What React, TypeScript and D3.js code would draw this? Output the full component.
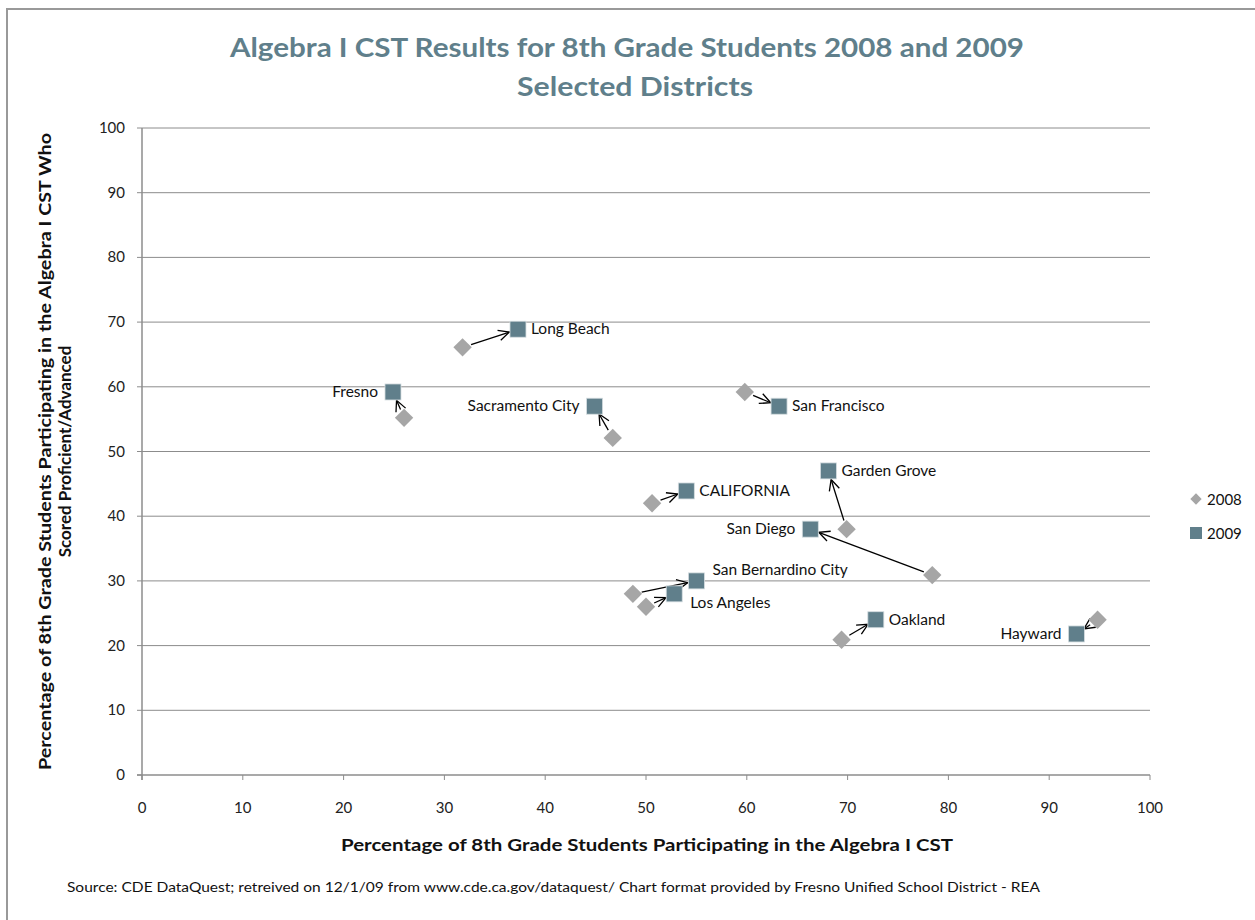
import React from 'react';
import * as d3 from 'd3';

const districts = ['Long Beach', 'Fresno', 'Sacramento City', 'San Francisco', 'Garden Grove', 'CALIFORNIA', 'San Diego', 'San Bernardino City', 'Los Angeles', 'Oakland', 'Hayward'];
const part2008 = [31.8, 26.0, 46.7, 59.8, 69.9, 50.6, 78.4, 48.7, 50.0, 69.4, 94.8];
const prof2008 = [66.1, 55.2, 52.1, 59.2, 38.0, 42.0, 30.9, 28.0, 26.0, 20.9, 24.0];
const part2009 = [37.3, 24.9, 44.9, 63.2, 68.1, 54.0, 66.3, 55.0, 52.8, 72.8, 92.7];
const prof2009 = [68.9, 59.2, 57.0, 57.0, 47.0, 43.9, 38.0, 30.0, 28.0, 24.0, 21.8];
// where the district name sits relative to the 2009 marker
const labelSide = ['right', 'left', 'left', 'right', 'right', 'right', 'left', 'above', 'below', 'right', 'left'];
const ticks = d3.range(0, 101, 10);

const W = 1255;
const H = 920;
const margin = { left: 142, right: 105, top: 128, bottom: 145 };
const FONT = 'Lato, "Open Sans", sans-serif';
const DIAMOND = '#a6a6a6';
const SQUARE = '#607f8b';
const GRID = '#8c8c8c';

export default function App() {
  const x = d3.scaleLinear().domain([0, 100]).range([margin.left, W - margin.right]);
  const y = d3.scaleLinear().domain([0, 100]).range([H - margin.bottom, margin.top]);

  const arrows = districts.map((d, i) => {
    const x0 = x(part2008[i]);
    const y0 = y(prof2008[i]);
    const x1 = x(part2009[i]);
    const y1 = y(prof2009[i]);
    const len = Math.hypot(x1 - x0, y1 - y0);
    const ux = (x1 - x0) / len;
    const uy = (y1 - y0) / len;
    const sx = x0 + ux * 9;
    const sy = y0 + uy * 9;
    const ex = x1 - ux * 9;
    const ey = y1 - uy * 9;
    const ang = Math.atan2(uy, ux);
    const head = [ang + Math.PI - 0.45, ang + Math.PI + 0.45].map((a) => [ex + Math.cos(a) * 12, ey + Math.sin(a) * 12]);
    return { d, sx, sy, ex, ey, head };
  });

  const labelPos = (i: number) => {
    const cx = x(part2009[i]);
    const cy = y(prof2009[i]);
    const side = labelSide[i];
    if (side === 'left') return { lx: cx - 15, ly: cy + 5, anchor: 'end' };
    if (side === 'above') return { lx: cx + 16, ly: cy - 6, anchor: 'start' };
    if (side === 'below') return { lx: cx + 16, ly: cy + 14, anchor: 'start' };
    return { lx: cx + 13, ly: cy + 5, anchor: 'start' };
  };

  const midX = (x(0) + x(100)) / 2;
  const midY = (y(0) + y(100)) / 2;

  return (
    <svg width={W} height={H} style={{ position: 'absolute', left: 0, top: 0 }} fontFamily={FONT}>
      <rect x={0} y={0} width={W} height={H} fill="#fff" />
      <path d={`M7,${H} V9 H${W}`} fill="none" stroke="#999" strokeWidth={2} />

      <text x={627} y={57} textAnchor="middle" fontSize={27} fontWeight="bold" fill={SQUARE} textLength={794} lengthAdjust="spacingAndGlyphs">
        Algebra I CST Results for 8th Grade Students 2008 and 2009
      </text>
      <text x={635} y={96} textAnchor="middle" fontSize={27} fontWeight="bold" fill={SQUARE} textLength={236} lengthAdjust="spacingAndGlyphs">
        Selected Districts
      </text>

      {/* gridlines */}
      {ticks.slice(1).map((t) => (
        <line key={t} x1={x(0)} x2={x(100)} y1={y(t)} y2={y(t)} stroke={GRID} strokeWidth={1} />
      ))}
      {/* axes */}
      <line x1={x(0)} x2={x(0)} y1={y(0) + 5} y2={y(100)} stroke={GRID} strokeWidth={1.5} />
      <line x1={x(0) - 5} x2={x(100)} y1={y(0)} y2={y(0)} stroke={GRID} strokeWidth={1.5} />
      {ticks.map((t) => (
        <g key={t}>
          <line x1={x(0) - 5} x2={x(0)} y1={y(t)} y2={y(t)} stroke={GRID} />
          <line x1={x(t)} x2={x(t)} y1={y(0)} y2={y(0) + 5} stroke={GRID} />
          <text x={x(0) - 17} y={y(t) + 5} textAnchor="end" fontSize={15} fill="#222">{t}</text>
          <text x={x(t)} y={y(0) + 38} textAnchor="middle" fontSize={15} fill="#222">{t}</text>
        </g>
      ))}

      {/* arrows from 2008 to 2009 */}
      {arrows.map((a) => (
        <g key={a.d} stroke="#000" strokeWidth={1.3} fill="none">
          <line x1={a.sx} y1={a.sy} x2={a.ex} y2={a.ey} />
          <polyline points={`${a.head[0][0]},${a.head[0][1]} ${a.ex},${a.ey} ${a.head[1][0]},${a.head[1][1]}`} />
        </g>
      ))}

      {/* 2008 diamonds */}
      {districts.map((d, i) => (
        <rect key={d} x={-6.5} y={-6.5} width={13} height={13} fill={DIAMOND}
          transform={`translate(${x(part2008[i])},${y(prof2008[i])}) rotate(45)`} />
      ))}
      {/* 2009 squares */}
      {districts.map((d, i) => (
        <rect key={d} x={x(part2009[i]) - 8} y={y(prof2009[i]) - 8} width={16} height={16} fill={SQUARE} stroke="#d5dde0" strokeWidth={0.8} />
      ))}
      {/* labels */}
      {districts.map((d, i) => {
        const p = labelPos(i);
        return (
          <text key={d} x={p.lx} y={p.ly} textAnchor={p.anchor} fontSize={15.5} fill="#111">{d}</text>
        );
      })}

      {/* legend */}
      <rect x={-4} y={-4} width={8} height={8} fill={DIAMOND} transform="translate(1196,499) rotate(45)" />
      <text x={1207} y={505} fontSize={15} fill="#111">2008</text>
      <rect x={1190} y={527} width={12} height={12} fill={SQUARE} />
      <text x={1207} y={539} fontSize={15} fill="#111">2009</text>

      {/* axis titles */}
      <text x={midX + 1} y={851} textAnchor="middle" fontSize={17} fontWeight="bold" fill="#111" textLength={612} lengthAdjust="spacingAndGlyphs">
        Percentage of 8th Grade Students Participating in the Algebra I CST
      </text>
      <g transform={`translate(51,${midY}) rotate(-90)`}>
        <text x={0} y={0} textAnchor="middle" fontSize={17.5} fontWeight="bold" fill="#111" textLength={637} lengthAdjust="spacingAndGlyphs">
          Percentage of 8th Grade Students Participating in the Algebra I CST Who
        </text>
        <text x={0} y={20} textAnchor="middle" fontSize={17} fontWeight="bold" fill="#111">
          Scored Proficient/Advanced
        </text>
      </g>

      <text x={67} y={892} fontSize={12.5} fill="#111" textLength={973} lengthAdjust="spacingAndGlyphs">
        Source: CDE  DataQuest; retreived on 12/1/09 from www.cde.ca.gov/dataquest/  Chart format provided  by Fresno Unified School District - REA
      </text>
    </svg>
  );
}
